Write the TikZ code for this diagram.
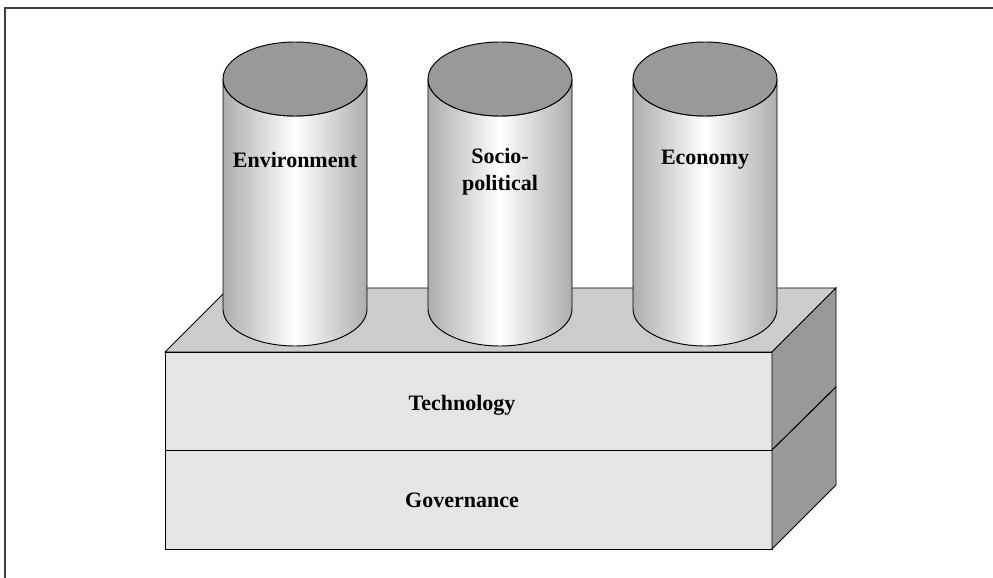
\documentclass[tikz,border=0pt]{standalone}
\usepackage{fontspec}
\setmainfont{Liberation Serif}
\definecolor{topface}{HTML}{CCCCCC}
\definecolor{frontface}{HTML}{E5E5E5}
\definecolor{sideface}{HTML}{999999}
\definecolor{cyltop}{HTML}{999999}
\definecolor{cyledge}{HTML}{ADADAD}
\definecolor{framecol}{HTML}{404040}
\tikzset{
  outline/.style={draw=black, line width=0.95pt, line join=miter},
  label/.style={font=\fontsize{22}{27}\selectfont\bfseries, align=center, inner sep=0pt},
}
\newcommand{\pillar}[2]{%
  % #1 = centre x, #2 = name
  \path[outline, left color=cyledge, right color=cyledge, middle color=white]
    (#1-72,79) -- (#1-72,309) arc[start angle=180, end angle=360, x radius=72, y radius=-37]
    -- (#1+72,79) arc[start angle=0, end angle=180, x radius=72, y radius=37] -- cycle;
  \draw[outline, fill=cyltop] (#1,79) ellipse[x radius=72, y radius=37];
  \coordinate (#2) at (#1,79);
}
\begin{document}
\begin{tikzpicture}[x=1pt, y=-1pt]
\useasboundingbox (0,0) rectangle (993,578);
% frame
\draw[framecol, line width=2pt] (5,578) -- (5,8) -- (993,8);
% box
\coordinate (ftl) at (165,352);
\coordinate (ftr) at (772,352);
\coordinate (fmr) at (772,450);
\coordinate (fbr) at (772,549);
\coordinate (fbl) at (165,549);
\coordinate (fml) at (165,450);
\coordinate (btl) at (229,288);
\coordinate (btr) at (836,288);
\coordinate (bmr) at (836,387);
\coordinate (bbr) at (836,485);
\draw[outline, fill=topface] (ftl) -- (btl) -- (btr) -- (ftr) -- cycle;
\draw[outline, fill=frontface] (ftl) -- (ftr) -- (fmr) -- (fml) -- cycle;
\draw[outline, fill=frontface] (fml) -- (fmr) -- (fbr) -- (fbl) -- cycle;
\draw[outline, fill=sideface] (ftr) -- (btr) -- (bmr) -- (fmr) -- cycle;
\draw[outline, fill=sideface] (fmr) -- (bmr) -- (bbr) -- (fbr) -- cycle;
% pillars
\pillar{295}{envtop}
\pillar{500}{soctop}
\pillar{705}{ecotop}
% labels
\node[label] (env) at (295,160) {Environment};
\node[label] (soc) at (500,172) {Socio-\\political};
\node[label] (eco) at (705,160) {Economy};
\node[label] (tech) at (462,405) {Technology};
\node[label] (gov) at (462,500) {Governance};
\end{tikzpicture}
\end{document}
